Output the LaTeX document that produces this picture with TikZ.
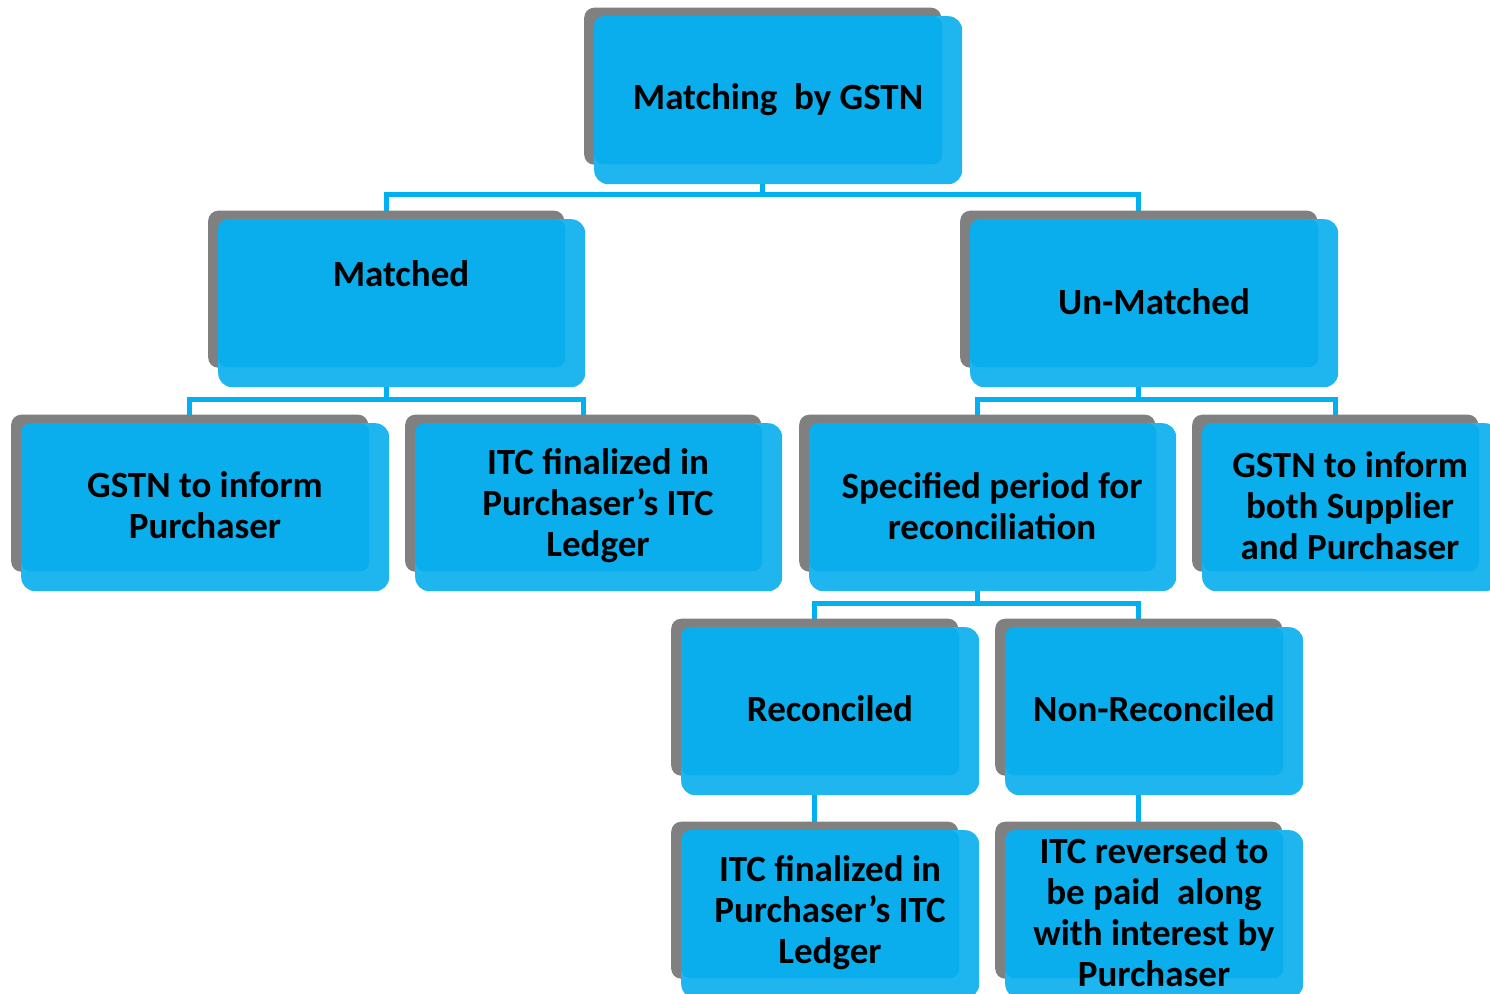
\documentclass[tikz,border=0pt]{standalone}
\usepackage{fontspec}
\setmainfont{Carlito}
\usetikzlibrary{backgrounds}
\definecolor{boxblue}{HTML}{0AAEEC}
\definecolor{rimblue}{HTML}{1FB6F0}
\definecolor{shadowgray}{HTML}{808080}
\definecolor{linkblue}{HTML}{00B0F0}
\tikzset{
  shadowbox/.style={fill=shadowgray, draw=none, rounded corners=10pt, inner sep=0pt, anchor=north west},
  rimbox/.style={fill=rimblue, draw=none, rounded corners=14pt, inner sep=0pt, anchor=north west},
  corebox/.style={fill=boxblue, rounded corners=10pt},
  boxtext/.style={font=\bfseries\fontsize{37}{41}\selectfont, align=center, text=black, inner sep=0pt},
  link/.style={draw=linkblue, line width=5pt},
}
% #1 name, #2 x, #3 y, #4 w, #5 h (blue box, px), #6 text x, #7 text y, #8 text
\newcommand\diagbox[8]{%
  \node[shadowbox, minimum width={#4pt-11pt}, minimum height={#5pt-11pt}] (#1) at ({#2-10},{#3-8.5}) {};
  \node[rimbox, minimum width={#4pt}, minimum height={#5pt}] (#1-b) at (#2,#3) {};
  \fill[corebox] (#1-b.north west) rectangle ([xshift=-20pt,yshift=20pt]#1-b.south east);
  \node[boxtext] (#1-t) at (#6,#7) {#8};
}
\begin{document}
\begin{tikzpicture}[x=1pt,y=-1pt]
\useasboundingbox (0,0) rectangle (1490,993);
\clip (0,0) rectangle (1490,993);

\diagbox{top}{594}{16}{368}{168}{778}{100}{Matching\ \ by GSTN}
\diagbox{matched}{218}{219}{367}{168}{401}{274}{Matched}
\diagbox{unm}{970}{219}{368}{168}{1154}{302}{Un-Matched}
\diagbox{gstnA}{21}{423}{368}{168}{205}{505}{GSTN to inform\\Purchaser}
\diagbox{itcA}{415}{423}{367}{168}{598}{506}{ITC finalized in\\Purchaser’s ITC\\Ledger}
\diagbox{spec}{809}{423}{367}{168}{992}{506}{Specified period for\\reconciliation}
\diagbox{gstnB}{1202}{423}{297}{168}{1350}{506}{GSTN to inform\\both Supplier\\and Purchaser}
\diagbox{recon}{681}{627}{298}{168}{830}{709}{Reconciled}
\diagbox{nonrec}{1005}{627}{298}{168}{1154}{709}{Non-Reconciled}
\diagbox{itcB}{681}{830}{298}{168}{830}{913}{ITC finalized in\\Purchaser’s ITC\\Ledger}
\diagbox{itcrev}{1005}{830}{298}{168}{1154}{912}{ITC reversed to\\be paid\ \ along\\with interest by\\Purchaser}

\begin{scope}[on background layer]
  \draw[link] (top.south) -- ++(0,30) -| (matched.north);
  \draw[link] (top.south) -- ++(0,30) -| (unm.north);
  \draw[link] (matched.south) -- ++(0,32) -| (gstnA.north);
  \draw[link] (matched.south) -- ++(0,32) -| (itcA.north);
  \draw[link] (unm.south) -- ++(0,32) -| (spec.north);
  \draw[link] (unm.south) -- ++(0,32) -| (gstnB.north);
  \draw[link] (spec.south) -- ++(0,32) -| (recon.north);
  \draw[link] (spec.south) -- ++(0,32) -| (nonrec.north);
  \draw[link] (recon.south) -- (itcB.north);
  \draw[link] (nonrec.south) -- (itcrev.north);
\end{scope}
\end{tikzpicture}
\end{document}
